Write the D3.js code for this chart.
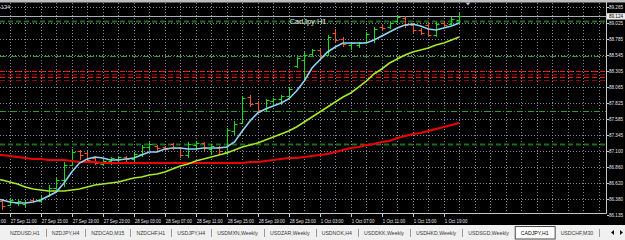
<!DOCTYPE html>
<html>
<head>
<meta charset="utf-8">
<title>CadJpy H1</title>
<style>
  html, body { margin: 0; padding: 0; background: #000; }
  svg { display: block; }
</style>
</head>
<body>
<script src="https://cdnjs.cloudflare.com/ajax/libs/d3/7.8.5/d3.min.js"></script>
<script>
// H1 bars, first one is 27 Sep 09:00, last one 1 Oct 21:00 (weekend gap after 28 Sep 23:00)
var opens = [86.391, 86.346, 86.286, 86.316, 86.301, 86.361, 86.346, 86.421, 86.541, 86.662, 86.887,
  87.098, 87.068, 86.993, 86.902, 86.948, 86.978, 87.008, 86.978, 87.053, 87.158,
  87.173, 87.158, 87.203, 87.143, 87.038, 87.188, 87.218, 87.128, 87.158, 87.083,
  87.399, 87.519, 87.911, 87.820, 87.730, 87.850, 87.881, 87.926, 88.377, 88.467,
  88.558, 88.618, 88.543, 88.874, 88.783, 88.693, 88.693, 88.738, 88.768, 88.964,
  88.964, 89.054, 89.099, 88.994, 88.919, 88.994, 88.844, 89.024, 89.009, 89.069];
var highs = [86.421, 86.376, 86.391, 86.376, 86.361, 86.391, 86.421, 86.587, 86.692, 86.933, 87.128,
  87.113, 87.083, 87.008, 86.963, 87.008, 87.023, 87.023, 87.083, 87.188, 87.234,
  87.188, 87.173, 87.218, 87.158, 87.234, 87.249, 87.234, 87.203, 87.173, 87.444,
  87.550, 87.926, 87.941, 87.850, 87.881, 87.896, 87.941, 88.061, 88.513, 88.588,
  88.633, 88.633, 88.844, 88.934, 88.814, 88.738, 88.738, 88.889, 88.964, 88.994,
  89.054, 89.145, 89.130, 89.024, 88.949, 89.039, 89.039, 89.054, 89.115, 89.175];
var lows = [86.331, 86.211, 86.271, 86.271, 86.256, 86.316, 86.316, 86.406, 86.511, 86.557, 86.872,
  86.963, 86.933, 86.887, 86.872, 86.887, 86.933, 86.933, 86.917, 87.008, 87.113,
  87.083, 87.098, 87.113, 86.993, 86.993, 87.113, 87.098, 87.038, 87.053, 87.038,
  87.339, 87.504, 87.760, 87.685, 87.685, 87.790, 87.790, 87.896, 88.347, 88.151,
  88.543, 88.467, 88.528, 88.738, 88.663, 88.618, 88.648, 88.723, 88.723, 88.919,
  88.934, 89.024, 88.949, 88.874, 88.844, 88.814, 88.814, 88.964, 88.994, 89.024];
var closes = [86.376, 86.271, 86.361, 86.346, 86.331, 86.346, 86.391, 86.541, 86.662, 86.887, 87.083,
  87.038, 86.963, 86.917, 86.948, 86.993, 87.008, 86.978, 87.053, 87.158, 87.203,
  87.143, 87.128, 87.143, 87.038, 87.203, 87.218, 87.143, 87.173, 87.098, 87.414,
  87.504, 87.896, 87.805, 87.715, 87.866, 87.881, 87.926, 88.031, 88.498, 88.543,
  88.618, 88.513, 88.814, 88.768, 88.708, 88.723, 88.723, 88.859, 88.934, 88.949,
  89.024, 89.115, 88.994, 88.919, 88.874, 88.844, 89.009, 88.994, 89.084, 89.124];

// moving averages, one value per bar
var maFast = [86.391, 86.361, 86.331, 86.316, 86.316, 86.331, 86.361, 86.421, 86.481, 86.617, 86.782,
  86.917, 86.978, 87.008, 86.993, 86.963, 86.963, 86.978, 86.993, 87.038, 87.083,
  87.083, 87.128, 87.143, 87.143, 87.128, 87.128, 87.143, 87.143, 87.143, 87.158,
  87.234, 87.399, 87.550, 87.670, 87.730, 87.775, 87.820, 87.881, 88.001, 88.151,
  88.347, 88.467, 88.588, 88.663, 88.723, 88.723, 88.723, 88.723, 88.768, 88.829,
  88.889, 88.949, 88.994, 89.009, 88.979, 88.934, 88.919, 88.949, 88.979, 89.024];
var maMid = [86.677, 86.662, 86.632, 86.602, 86.557, 86.526, 86.511, 86.496, 86.496, 86.496, 86.511,
  86.526, 86.557, 86.587, 86.602, 86.617, 86.632, 86.662, 86.692, 86.707, 86.737,
  86.752, 86.782, 86.827, 86.872, 86.902, 86.948, 86.978, 87.008, 87.038, 87.068,
  87.113, 87.158, 87.188, 87.218, 87.264, 87.309, 87.354, 87.399, 87.459, 87.535,
  87.610, 87.685, 87.760, 87.835, 87.911, 87.971, 88.061, 88.151, 88.257, 88.332,
  88.422, 88.483, 88.543, 88.588, 88.618, 88.648, 88.693, 88.723, 88.768, 88.814];
var maSlow = [87.038, 87.038, 87.023, 87.008, 86.993, 86.978, 86.978, 86.963, 86.963, 86.963, 86.948,
  86.933, 86.933, 86.933, 86.917, 86.917, 86.917, 86.917, 86.917, 86.917, 86.917,
  86.917, 86.917, 86.917, 86.917, 86.917, 86.917, 86.917, 86.917, 86.917, 86.917,
  86.917, 86.917, 86.933, 86.933, 86.948, 86.963, 86.978, 86.993, 86.993, 87.008,
  87.023, 87.038, 87.053, 87.083, 87.113, 87.143, 87.158, 87.188, 87.203, 87.234,
  87.249, 87.294, 87.324, 87.354, 87.369, 87.399, 87.429, 87.459, 87.489, 87.519];

var priceTicks = [89.265, 89.025, 88.785, 88.545, 88.305, 88.065, 87.825, 87.585, 87.345, 87.100, 86.860, 86.620, 86.380, 86.135];
var priceLabels = ["89.265", "89.025", "88.785", "88.545", "88.305", "88.065", "87.825", "87.585", "87.345", "87.100", "86.860", "86.620", "86.380", "86.135"];
var timeLabels = ["27 Sep 07:00", "27 Sep 11:00", "27 Sep 15:00", "27 Sep 19:00", "27 Sep 23:00",
  "28 Sep 03:00", "28 Sep 07:00", "28 Sep 11:00", "28 Sep 15:00", "28 Sep 19:00", "28 Sep 23:00",
  "1 Oct 03:00", "1 Oct 07:00", "1 Oct 11:00", "1 Oct 15:00", "1 Oct 19:00"];
var bid = 89.124;

// horizontal levels drawn on the chart
var levelPrices = [89.054, 88.528, 88.302, 88.264, 88.219, 88.167, 87.700, 87.203];
var levelKinds  = ["dkgreen", "green", "red", "dkred", "red", "dkred", "green", "dkgreen"];

var tabNames = ["NZDUSD,H1", "NZDJPY,H4", "NZDCAD,M15", "NZDCHF,H1", "USDJPY,H4", "USDMXN,Weekly",
  "USDZAR,Weekly", "USDNOK,H4", "USDDKK,Weekly", "USDHKD,Weekly", "USDSGD,Weekly", "CADJPY,H1", "USDCHF,M30"];
var activeTab = "CADJPY,H1";

var W = 625, H = 240;
var plotR = 606, plotT = 3, plotB = 213;
var font = "'Liberation Sans', Arial, sans-serif";

var svg = d3.select("body").append("svg")
    .attr("width", W)
    .attr("height", H);

svg.append("rect").attr("width", W).attr("height", H).attr("fill", "#000");

// bar index -> x, price -> y
var x = d3.scaleLinear().domain([0, 78]).range([-5.75, 598.75]);
var y = d3.scaleLinear().domain([86.135, 89.265]).range([215, 7]);
var px = function(j) { return Math.round(x(j)) + 0.5; };
var py = function(v) { return Math.round(y(v)) + 0.5; };

svg.append("clipPath").attr("id", "clip")
  .append("rect").attr("x", 0).attr("y", plotT).attr("width", plotR).attr("height", plotB - plotT);

var g = svg.append("g").attr("clip-path", "url(#clip)");

// grid
var gridColor = "#7f8a96";
g.selectAll(".vgrid").data(d3.range(2, 79, 2)).enter().append("line")
    .attr("x1", px).attr("x2", px)
    .attr("y1", plotT).attr("y2", plotB)
    .attr("stroke", gridColor).attr("stroke-width", 1).attr("stroke-dasharray", "1,2");
g.selectAll(".hgrid").data(priceTicks).enter().append("line")
    .attr("x1", 0).attr("x2", plotR)
    .attr("y1", py).attr("y2", py)
    .attr("stroke", gridColor).attr("stroke-width", 1).attr("stroke-dasharray", "1,2");

// levels
var levelStyle = {
  dkgreen: { c: "#1f6e1f", w: 1.8, d: "5,3" },
  green:   { c: "#2e9a2e", w: 1, d: "6,2,1,2" },
  red:     { c: "#ff1010", w: 1.2, d: "5,3" },
  dkred:   { c: "#9a0000", w: 1.2, d: "5,3" }
};
g.selectAll(".level").data(levelPrices).enter().append("line")
    .attr("x1", 0).attr("x2", plotR)
    .attr("y1", py).attr("y2", py)
    .attr("stroke", function(d, i) { return levelStyle[levelKinds[i]].c; })
    .attr("stroke-width", function(d, i) { return levelStyle[levelKinds[i]].w; })
    .attr("stroke-dasharray", function(d, i) { return levelStyle[levelKinds[i]].d; });

// bid line
g.append("line")
    .attr("x1", 0).attr("x2", plotR)
    .attr("y1", py(bid)).attr("y2", py(bid))
    .attr("stroke", "#a9aebb").attr("stroke-width", 1);

// OHLC bars
var bars = g.selectAll(".bar").data(d3.range(opens.length)).enter().append("g")
    .attr("stroke", function(j) { return closes[j] >= opens[j] ? "#12e012" : "#f2561e"; })
    .attr("stroke-width", 1);
bars.append("line")
    .attr("x1", px).attr("x2", px)
    .attr("y1", function(j) { return y(highs[j]); })
    .attr("y2", function(j) { return y(lows[j]); });
bars.append("line")
    .attr("x1", function(j) { return px(j) - 3; }).attr("x2", px)
    .attr("y1", function(j) { return py(opens[j]); })
    .attr("y2", function(j) { return py(opens[j]); });
bars.append("line")
    .attr("x1", px).attr("x2", function(j) { return px(j) + 3; })
    .attr("y1", function(j) { return py(closes[j]); })
    .attr("y2", function(j) { return py(closes[j]); });

// moving averages
var line = d3.line()
    .x(function(d, i) { return x(i); })
    .y(function(d) { return y(d); });
g.append("path").datum(maSlow).attr("d", line)
    .attr("fill", "none").attr("stroke", "#ee0000").attr("stroke-width", 2);
g.append("path").datum(maMid).attr("d", line)
    .attr("fill", "none").attr("stroke", "#a8e82a").attr("stroke-width", 1.6);
g.append("path").datum(maFast).attr("d", line)
    .attr("fill", "none").attr("stroke", "#8fd3f5").attr("stroke-width", 1.6);

// title
svg.append("text")
    .attr("x", 308).attr("y", 24)
    .attr("text-anchor", "middle")
    .attr("font-family", font).attr("font-size", 7.5)
    .attr("fill", "#e8e8e8")
    .text("CadJpy H1");

// top-left price (cut by the window edge)
svg.append("text")
    .attr("x", 10).attr("y", 8.5)
    .attr("text-anchor", "end")
    .attr("font-family", font).attr("font-size", 5.5)
    .attr("fill", "#e0e0e0")
    .text(bid.toFixed(3));

// frame
svg.append("rect").attr("x", 0).attr("y", 0).attr("width", W).attr("height", 2.5).attr("fill", "#bdbdbd");
svg.append("line").attr("x1", plotR + 0.5).attr("x2", plotR + 0.5).attr("y1", 2).attr("y2", plotB + 0.5)
    .attr("stroke", "#c8c8c8");
svg.append("line").attr("x1", 0).attr("x2", plotR + 0.5).attr("y1", plotB + 0.5).attr("y2", plotB + 0.5)
    .attr("stroke", "#c8c8c8");

// chart shift marker
svg.append("path").attr("d", "M465.5,2.5L470.5,2.5L468,5.5Z").attr("fill", "#a9b9cc");

function squeeze(sel, k) {
  sel.each(function() {
    var w = this.getComputedTextLength();
    d3.select(this).attr("textLength", w * k).attr("lengthAdjust", "spacingAndGlyphs");
  });
}

// price axis
svg.selectAll(".ptick").data(priceTicks).enter().append("line")
    .attr("x1", plotR + 1).attr("x2", plotR + 3)
    .attr("y1", py).attr("y2", py)
    .attr("stroke", "#c8c8c8");
svg.selectAll(".plabel").data(priceTicks).enter().append("text")
    .attr("x", 609).attr("y", function(d) { return y(d); })
    .attr("dy", "0.35em")
    .attr("font-family", font).attr("font-size", 5.5)
    .attr("fill", "#e6e6e6")
    .text(function(d, i) { return priceLabels[i]; })
    .call(squeeze, 0.83);

// bid label
svg.append("rect").attr("x", 607).attr("y", y(bid) - 3.2).attr("width", 18).attr("height", 6.4).attr("fill", "#ececec");
svg.append("text")
    .attr("x", 609).attr("y", y(bid)).attr("dy", "0.35em")
    .attr("font-family", font).attr("font-size", 5.5)
    .attr("fill", "#000")
    .text(bid.toFixed(3))
    .call(squeeze, 0.83);

// time axis
var timeIdx = timeLabels.map(function(d, k) { return -2 + 4 * k; });
svg.selectAll(".ttick").data(timeIdx).enter().append("line")
    .attr("x1", px).attr("x2", px)
    .attr("y1", plotB + 1).attr("y2", plotB + 4)
    .attr("stroke", "#c8c8c8");
svg.selectAll(".tlabel").data(timeIdx).enter().append("text")
    .attr("x", function(j) { return x(j) + 1; })
    .attr("y", 223)
    .attr("font-family", font).attr("font-size", 5.5)
    .attr("fill", "#e6e6e6")
    .text(function(d, k) { return timeLabels[k]; })
    .call(squeeze, 0.8);

// tab bar
svg.append("rect").attr("x", 0).attr("y", 225).attr("width", W).attr("height", 15).attr("fill", "#f0f0f0");
var tabs = svg.append("g");
var cx = 4;
tabNames.forEach(function(name) {
  var active = name === activeTab;
  var tg = tabs.append("g");
  var t = tg.append("text")
      .attr("x", cx + 6).attr("y", 235)
      .attr("font-family", font).attr("font-size", 5.2)
      .attr("fill", active ? "#000" : "#3a3a3a")
      .text(name);
  var end = cx + 6 + t.node().getComputedTextLength() + 6;
  if (active) {
    tg.insert("rect", "text")
        .attr("x", cx + 0.5).attr("y", 226.5)
        .attr("width", end - cx).attr("height", 12.5)
        .attr("fill", "#fff").attr("stroke", "#4a4a4a");
  } else {
    tg.append("line")
        .attr("x1", Math.round(end) + 0.5).attr("x2", Math.round(end) + 0.5)
        .attr("y1", 229).attr("y2", 237)
        .attr("stroke", "#9a9a9a");
  }
  cx = end;
});
tabs.append("path").attr("d", "M611,232.5L614,230L614,235Z").attr("fill", "#111");
tabs.append("path").attr("d", "M623,232.5L620,230L620,235Z").attr("fill", "#111");
</script>
</body>
</html>
